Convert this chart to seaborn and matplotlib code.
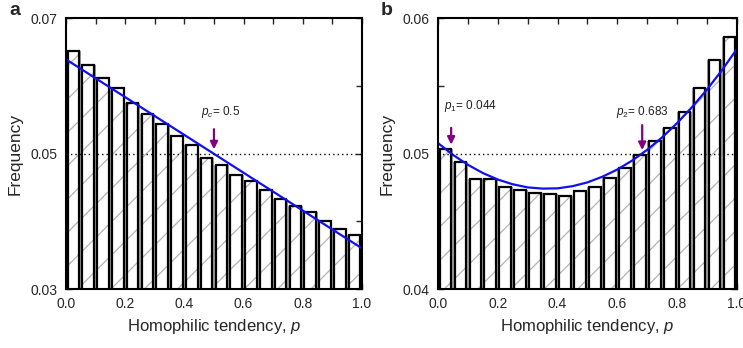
import numpy as np
import pandas as pd
import matplotlib
matplotlib.use("Agg")
import matplotlib.pyplot as plt
import seaborn as sns

# ---- data ----
bin_edges = [round(0.05 * i, 2) for i in range(21)]
bin_centers = [round(0.025 + 0.05 * i, 3) for i in range(20)]

freq_a = [0.0652, 0.0631, 0.0611, 0.0596, 0.0575, 0.0558, 0.0544, 0.0526, 0.0512, 0.0493,
          0.0483, 0.0469, 0.0459, 0.0446, 0.0433, 0.0422, 0.0414, 0.0401, 0.0389, 0.0379]
freq_b = [0.0503, 0.0494, 0.0481, 0.0481, 0.0475, 0.0473, 0.0471, 0.0470, 0.0469, 0.0472,
          0.0475, 0.0482, 0.0489, 0.0499, 0.0509, 0.0519, 0.0531, 0.0548, 0.0569, 0.0586]

fit_a_x = [0.0, 1.0]
fit_a_y = [0.0639, 0.0360]

fit_b_x = [0.0, 0.05, 0.1, 0.15, 0.2, 0.25, 0.3, 0.35, 0.4, 0.45, 0.5,
           0.55, 0.6, 0.65, 0.7, 0.75, 0.8, 0.85, 0.9, 0.95, 1.0]
fit_b_y = [0.05077, 0.04990, 0.04917, 0.04856, 0.04808, 0.04773, 0.04750, 0.04741, 0.04743,
           0.04759, 0.04787, 0.04829, 0.04882, 0.04949, 0.05028, 0.05120, 0.05225, 0.05343,
           0.05473, 0.05616, 0.05772]

pc_a = 0.5
p1_b, p2_b = 0.044, 0.683

# ---- style ----
sns.set_style("ticks")
plt.rcParams["font.family"] = ["Liberation Sans", "DejaVu Sans"]
plt.rcParams["mathtext.fontset"] = "custom"
plt.rcParams["mathtext.rm"] = "Liberation Sans"
plt.rcParams["mathtext.it"] = "Liberation Sans:italic"
plt.rcParams["hatch.linewidth"] = 0.9

fig = plt.figure(figsize=(7.43, 3.48), dpi=100)
ax_a = fig.add_axes([0.0888, 0.1695, 0.3984, 0.7787])
ax_b = fig.add_axes([0.5895, 0.1695, 0.4024, 0.7787])


def draw_bars(ax, vals):
    df = pd.DataFrame({"p": bin_centers, "f": vals})
    # gray strip behind
    sns.histplot(data=df, x="p", weights="f", bins=bin_edges, shrink=1.0, ax=ax,
                 color="#a0a0a0", edgecolor="none", linewidth=0, alpha=1)
    # hatched fill
    sns.histplot(data=df, x="p", weights="f", bins=bin_edges, shrink=0.78, ax=ax,
                 color="white", edgecolor="#b4b4b4", linewidth=0, alpha=1, hatch="/")
    # black outline
    sns.histplot(data=df, x="p", weights="f", bins=bin_edges, shrink=0.78, ax=ax,
                 fill=False, color="black", linewidth=1.6)


def style_axes(ax, ylo, yhi, major, minor, labels):
    ax.set_xlim(0, 1)
    ax.set_ylim(ylo, yhi)
    ax.set_xticks([0.0, 0.2, 0.4, 0.6, 0.8, 1.0])
    ax.set_xticklabels(["0.0", "0.2", "0.4", "0.6", "0.8", "1.0"])
    ax.set_xticks([0.1, 0.3, 0.5, 0.7, 0.9], minor=True)
    ax.set_yticks(major)
    ax.set_yticklabels(labels)
    ax.set_yticks(minor, minor=True)
    ax.tick_params(which="both", direction="in", top=True, right=True,
                   length=4.5, width=1, labelsize=10, pad=6)
    for s in ax.spines.values():
        s.set_linewidth(1.5)
        s.set_color("black")
    ax.set_xlabel("Homophilic tendency, $p$", fontsize=12, labelpad=4)
    ax.set_ylabel("Frequency", fontsize=12.5, labelpad=6)
    ax.axhline(0.05, color="black", linestyle=(0, (1, 2.2)), linewidth=1)


arrow_kw = dict(arrowstyle="-|>", color="#800080", lw=1.6, mutation_scale=11)

# ---- panel a ----
draw_bars(ax_a, freq_a)
sns.lineplot(x=fit_a_x, y=fit_a_y, ax=ax_a, color="#1010f0", linewidth=1.6)
style_axes(ax_a, 0.03, 0.07, [0.03, 0.05, 0.07], [0.04, 0.06], ["0.03", "0.05", "0.07"])
ax_a.annotate("", xy=(pc_a, 0.0502), xytext=(pc_a, 0.0540), arrowprops=arrow_kw)
ax_a.text(0.455, 0.0562, "$p_c$= 0.5", fontsize=8.5, color="#222222", va="center")
fig.text(0.013, 0.97, "a", fontsize=14, fontweight="bold", va="center")

# ---- panel b ----
draw_bars(ax_b, freq_b)
sns.lineplot(x=fit_b_x, y=fit_b_y, ax=ax_b, color="#1010f0", linewidth=1.6)
style_axes(ax_b, 0.04, 0.06, [0.04, 0.05, 0.06], [0.045, 0.055], ["0.04", "0.05", "0.06"])
ax_b.annotate("", xy=(p1_b, 0.05045), xytext=(p1_b, 0.0521), arrowprops=arrow_kw)
ax_b.annotate("", xy=(p2_b, 0.05005), xytext=(p2_b, 0.0523), arrowprops=arrow_kw)
ax_b.text(0.02, 0.0535, "$p_1$= 0.044", fontsize=8.5, color="#222222", va="center")
ax_b.text(0.597, 0.0531, "$p_2$= 0.683", fontsize=8.5, color="#222222", va="center")
fig.text(0.513, 0.97, "b", fontsize=14, fontweight="bold", va="center")

fig.savefig("out.png", dpi=100)
